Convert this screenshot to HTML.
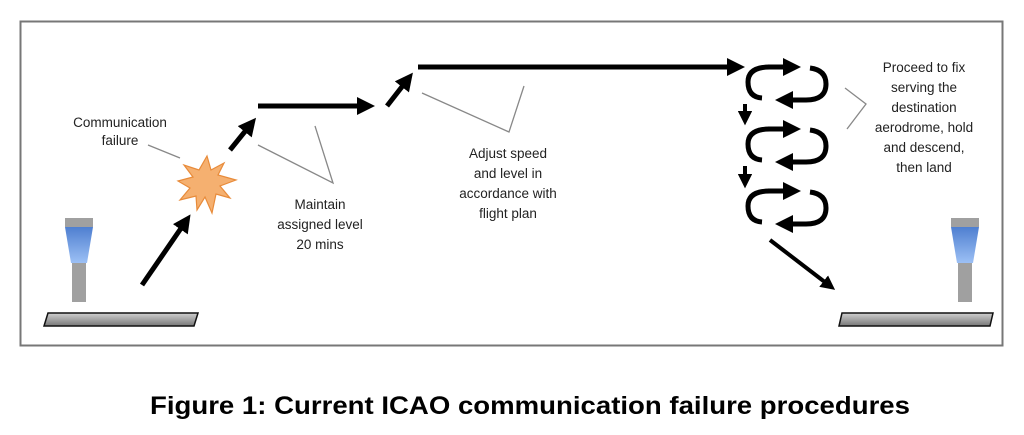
<!DOCTYPE html>
<html><head><meta charset="utf-8"><style>
html,body{margin:0;padding:0;background:#fff;width:1024px;height:435px;overflow:hidden}
svg{display:block}
text{font-family:"Liberation Sans",Arial,sans-serif;fill:#222}
</style></head><body>
<svg width="1024" height="435" viewBox="0 0 1024 435" xmlns="http://www.w3.org/2000/svg">
<defs>
<marker id="ah" markerWidth="3.6" markerHeight="3.6" refX="2" refY="1.8" orient="auto" markerUnits="strokeWidth">
<path d="M0,0 L3.6,1.8 L0,3.6 Z" fill="#000"/></marker>
<linearGradient id="rw" x1="0" y1="0" x2="0" y2="1"><stop offset="0" stop-color="#d0d0d0"/><stop offset="1" stop-color="#777"/></linearGradient>
<linearGradient id="bl" x1="0" y1="0" x2="0" y2="1"><stop offset="0" stop-color="#4f7fd0"/><stop offset="1" stop-color="#9cc0f5"/></linearGradient>
</defs>
<rect x="20.5" y="21.5" width="982" height="324" fill="#fff" stroke="#777" stroke-width="2"/>

<rect x="65" y="218" width="28" height="9" fill="#a0a0a0"/>
<polygon points="65,227 93,227 87,263 71,263" fill="url(#bl)"/>
<rect x="72" y="263" width="14" height="39" fill="#a0a0a0"/>
<polygon points="48,313 198,313 194,326 44,326" fill="url(#rw)" stroke="#111" stroke-width="1.5"/>
<rect x="951" y="218" width="28" height="9" fill="#a0a0a0"/>
<polygon points="951,227 979,227 973,263 957,263" fill="url(#bl)"/>
<rect x="958" y="263" width="14" height="39" fill="#a0a0a0"/>
<polygon points="842,313 993,313 990,326 839,326" fill="url(#rw)" stroke="#111" stroke-width="1.5"/>

<polygon fill="#f5b070" stroke="#e88b3a" stroke-width="1.2" points="207,156 211,170 224,163 218,175 236,180 220,186 230,198 216,194 212,213 205,197 197,210 196,196 180,200 190,188 178,181 193,177 184,165 199,170" />

<g stroke="#000" stroke-width="5" fill="none">
<line x1="142" y1="285" x2="186" y2="221" marker-end="url(#ah)"/>
<line x1="230" y1="150" x2="251" y2="124" marker-end="url(#ah)"/>
<line x1="258" y1="106" x2="367" y2="106" marker-end="url(#ah)"/>
<line x1="387" y1="106" x2="408" y2="79" marker-end="url(#ah)"/>
<line x1="418" y1="67" x2="737" y2="67" marker-end="url(#ah)"/>
<line x1="770" y1="240" x2="830" y2="286" marker-end="url(#ah)" stroke-width="4"/>
<line x1="745" y1="104" x2="745" y2="119" marker-end="url(#ah)" stroke-width="4"/>
<line x1="745" y1="166" x2="745" y2="182" marker-end="url(#ah)" stroke-width="4"/>
</g>
<g stroke="#000" stroke-width="5" fill="none">
<g id="h1">
<path d="M770,67 Q748,67 748,82 Q748,97 762,98"/>
<line x1="768" y1="67" x2="793" y2="67" marker-end="url(#ah)"/>
<path d="M810,68 Q826,70 826,84 Q826,100 806,100 L783,100" marker-end="url(#ah)"/>
</g>
<use href="#h1" transform="translate(0,62)"/>
<use href="#h1" transform="translate(0,124)"/>
</g>

<g stroke="#888" stroke-width="1.3" fill="none">
<line x1="148" y1="145" x2="180" y2="158"/>
<polyline points="258,145 333,183 315,126"/>
<polyline points="422,93 509,132 524,86"/>
<polyline points="845,88 866,104 847,129"/>
</g>

<g font-size="13.5" text-anchor="middle">
<text x="120" y="127">Communication</text>
<text x="120" y="145">failure</text>
<text x="320" y="209">Maintain</text>
<text x="320" y="229">assigned level</text>
<text x="320" y="249">20 mins</text>
<text x="508" y="158">Adjust speed</text>
<text x="508" y="178">and level in</text>
<text x="508" y="198">accordance with</text>
<text x="508" y="218">flight plan</text>
<text x="924" y="72">Proceed to fix</text>
<text x="924" y="92">serving the</text>
<text x="924" y="112">destination</text>
<text x="924" y="132">aerodrome, hold</text>
<text x="924" y="152">and descend,</text>
<text x="924" y="172">then land</text>
</g>
<text x="150" y="414" font-size="25" font-weight="bold" textLength="760" lengthAdjust="spacingAndGlyphs" style="fill:#000">Figure 1: Current ICAO communication failure procedures</text>
</svg>
</body></html>
